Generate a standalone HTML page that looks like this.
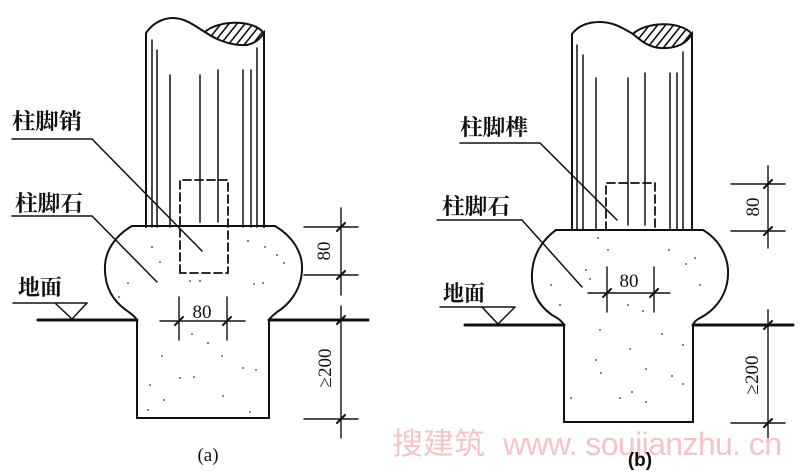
<!DOCTYPE html>
<html><head><meta charset="utf-8"><style>
html,body{margin:0;padding:0;background:#fff;}
svg{display:block;}
.cj{font-family:"Liberation Serif","Noto Serif CJK SC",serif;font-size:22px;font-weight:bold;fill:#111;}
.num{font-family:"Liberation Serif",serif;font-size:19px;fill:#111;}
</style></head><body>
<svg width="800" height="473" viewBox="0 0 800 473" xmlns="http://www.w3.org/2000/svg">
<defs>
<clipPath id="ha"><path d="M205,32 C215,22 250,17 264,33 C258,42 250,46 240,45 C225,44 212,37 205,32 Z"/></clipPath>
<clipPath id="hb"><path d="M633,34 C645,22 680,20 692,34 C686,44 675,49 660,48 C648,47 640,40 633,34 Z"/></clipPath>
</defs>
<rect width="800" height="473" fill="#fff"/>
<g fill="none" stroke="#111" stroke-linecap="round">
<!-- ===== (a) ===== -->
<path d="M132,226 L275,226 C292,236 303,252 302,270 C301,292 287,306 277,312 C272,316 270,318 269,320 L269,418 L137,418 L137,320 C135,316 130,313 126,310 C112,300 104,285 105,265 C106,248 118,234 132,226 Z" stroke-width="2"/>
<path d="M146,227 L146,33 C152,24 162,18 173,18 C186,18 196,27 205,32 C212,37 225,44 240,45 C250,46 258,42 264,33 L264,227" stroke-width="2"/>
<path d="M205,32 C215,22 250,17 264,33" stroke-width="2"/>
<g clip-path="url(#ha)" stroke-width="1.6">
<line x1="200" y1="60" x2="240" y2="10"/><line x1="208" y1="60" x2="248" y2="10"/><line x1="216" y1="60" x2="256" y2="10"/><line x1="224" y1="60" x2="264" y2="10"/><line x1="232" y1="60" x2="272" y2="10"/><line x1="240" y1="60" x2="280" y2="10"/><line x1="248" y1="60" x2="288" y2="10"/><line x1="192" y1="60" x2="232" y2="10"/>
</g>
<g stroke-width="1.5">
<line x1="152" y1="40" x2="152" y2="227"/><line x1="157" y1="50" x2="157" y2="227"/><line x1="170" y1="75" x2="170" y2="227"/>
<line x1="200" y1="75" x2="200" y2="222"/><line x1="218" y1="70" x2="218" y2="222"/><line x1="243" y1="70" x2="243" y2="227"/>
<line x1="251" y1="70" x2="251" y2="227"/><line x1="257" y1="48" x2="257" y2="227"/>
</g>
<path d="M180,273 L180,180 L228,180 L228,273 Z" stroke-width="1.8" stroke-dasharray="8,4"/>
<line x1="38" y1="320" x2="137" y2="320" stroke-width="3"/>
<line x1="269" y1="320" x2="368" y2="320" stroke-width="3"/>
<line x1="13" y1="303" x2="87" y2="303" stroke-width="1.5"/>
<path d="M55,303 L72,319 L87,303" stroke-width="1.5"/>
<path d="M12,139 L92,139 L202,251" stroke-width="1.5"/>
<path d="M12,216 L92,216 L157,282" stroke-width="1.5"/>
<line x1="341" y1="208" x2="341" y2="295" stroke-width="1.4"/>
<line x1="341" y1="306" x2="341" y2="438" stroke-width="1.4"/>
<line x1="304" y1="227" x2="358" y2="227" stroke-width="1.4"/>
<line x1="304" y1="275" x2="358" y2="275" stroke-width="1.4"/>
<line x1="304" y1="419" x2="358" y2="419" stroke-width="1.4"/>
<g stroke-width="2"><line x1="337" y1="231" x2="345" y2="223"/><line x1="337" y1="279" x2="345" y2="271"/><line x1="337" y1="324" x2="345" y2="316"/><line x1="337" y1="423" x2="345" y2="415"/></g>
<line x1="160" y1="321" x2="245" y2="321" stroke-width="1.4"/>
<line x1="179" y1="297" x2="179" y2="340" stroke-width="1.4"/>
<line x1="227" y1="297" x2="227" y2="340" stroke-width="1.4"/>
<g stroke-width="2"><line x1="175" y1="325" x2="183" y2="317"/><line x1="223" y1="325" x2="231" y2="317"/></g>

<!-- ===== (b) ===== -->
<path d="M556,230 L703,230 C720,240 729,258 728,275 C727,298 712,312 700,318 C696,320 694,322 693,325 L693,422 L564,422 L564,325 C562,321 558,318 552,315 C538,305 531,292 532,273 C533,255 542,240 556,230 Z" stroke-width="2"/>
<path d="M572,230 L572,34 C578,26 588,22 600,22 C614,22 624,29 633,34 C640,40 648,47 660,48 C675,49 686,44 692,34 L692,230" stroke-width="2"/>
<path d="M633,34 C645,22 680,20 692,34" stroke-width="2"/>
<g clip-path="url(#hb)" stroke-width="1.6">
<line x1="620" y1="62" x2="660" y2="12"/><line x1="628" y1="62" x2="668" y2="12"/><line x1="636" y1="62" x2="676" y2="12"/><line x1="644" y1="62" x2="684" y2="12"/><line x1="652" y1="62" x2="692" y2="12"/><line x1="660" y1="62" x2="700" y2="12"/><line x1="668" y1="62" x2="708" y2="12"/><line x1="676" y1="62" x2="716" y2="12"/>
</g>
<g stroke-width="1.5">
<line x1="577" y1="45" x2="577" y2="230"/><line x1="583" y1="55" x2="583" y2="230"/><line x1="596" y1="78" x2="596" y2="230"/>
<line x1="628" y1="78" x2="628" y2="225"/><line x1="645" y1="73" x2="645" y2="225"/><line x1="670" y1="73" x2="670" y2="230"/>
<line x1="677" y1="73" x2="677" y2="230"/><line x1="683" y1="52" x2="683" y2="230"/>
</g>
<path d="M606,230 L606,183 L655,183 L655,230" stroke-width="1.8" stroke-dasharray="8,4"/>
<line x1="465" y1="325" x2="564" y2="325" stroke-width="3"/>
<line x1="693" y1="325" x2="793" y2="325" stroke-width="3"/>
<line x1="440" y1="307" x2="515" y2="307" stroke-width="1.5"/>
<path d="M482,307 L498,324 L515,307" stroke-width="1.5"/>
<path d="M460,143 L540,143 L617,220" stroke-width="1.5"/>
<path d="M437,220 L522,220 L582,287" stroke-width="1.5"/>
<line x1="768" y1="166" x2="768" y2="248" stroke-width="1.4"/>
<line x1="768" y1="310" x2="768" y2="440" stroke-width="1.4"/>
<line x1="731" y1="184" x2="785" y2="184" stroke-width="1.4"/>
<line x1="731" y1="231" x2="785" y2="231" stroke-width="1.4"/>
<line x1="731" y1="423" x2="785" y2="423" stroke-width="1.4"/>
<g stroke-width="2"><line x1="764" y1="188" x2="772" y2="180"/><line x1="764" y1="235" x2="772" y2="227"/><line x1="764" y1="329" x2="772" y2="321"/><line x1="764" y1="427" x2="772" y2="419"/></g>
<line x1="588" y1="293" x2="670" y2="293" stroke-width="1.4"/>
<line x1="607" y1="267" x2="607" y2="312" stroke-width="1.4"/>
<line x1="654" y1="267" x2="654" y2="312" stroke-width="1.4"/>
<g stroke-width="2"><line x1="603" y1="297" x2="611" y2="289"/><line x1="650" y1="297" x2="658" y2="289"/></g>
</g>
<g fill="#333">
<circle cx="152" cy="247" r="0.9"/><circle cx="160" cy="262" r="0.9"/><circle cx="128" cy="283" r="0.9"/><circle cx="119" cy="297" r="0.9"/><circle cx="248" cy="241" r="0.9"/><circle cx="265" cy="247" r="0.9"/><circle cx="277" cy="255" r="0.9"/><circle cx="284" cy="263" r="0.9"/><circle cx="254" cy="284" r="0.9"/><circle cx="263" cy="283" r="0.9"/><circle cx="200" cy="281" r="0.9"/><circle cx="190" cy="281" r="0.9"/><circle cx="192" cy="334" r="0.9"/><circle cx="208" cy="343" r="0.9"/><circle cx="162" cy="356" r="0.9"/><circle cx="222" cy="356" r="0.9"/><circle cx="180" cy="378" r="0.9"/><circle cx="194" cy="377" r="0.9"/><circle cx="243" cy="368" r="0.9"/><circle cx="256" cy="370" r="0.9"/><circle cx="150" cy="385" r="0.9"/><circle cx="164" cy="400" r="0.9"/><circle cx="223" cy="396" r="0.9"/><circle cx="250" cy="412" r="0.9"/><circle cx="148" cy="410" r="0.9"/>
<circle cx="598" cy="238" r="0.9"/><circle cx="608" cy="250" r="0.9"/><circle cx="586" cy="270" r="0.9"/><circle cx="590" cy="279" r="0.9"/><circle cx="669" cy="250" r="0.9"/><circle cx="686" cy="264" r="0.9"/><circle cx="695" cy="258" r="0.9"/><circle cx="700" cy="285" r="0.9"/><circle cx="551" cy="285" r="0.9"/><circle cx="628" cy="305" r="0.9"/><circle cx="643" cy="311" r="0.9"/><circle cx="560" cy="305" r="0.9"/><circle cx="600" cy="330" r="0.9"/><circle cx="630" cy="349" r="0.9"/><circle cx="662" cy="334" r="0.9"/><circle cx="683" cy="345" r="0.9"/><circle cx="596" cy="360" r="0.9"/><circle cx="646" cy="369" r="0.9"/><circle cx="672" cy="376" r="0.9"/><circle cx="601" cy="373" r="0.9"/><circle cx="620" cy="398" r="0.9"/><circle cx="632" cy="392" r="0.9"/><circle cx="646" cy="402" r="0.9"/><circle cx="571" cy="398" r="0.9"/><circle cx="683" cy="384" r="0.9"/>
</g>
<text class="cj" x="12" y="129" textLength="70" lengthAdjust="spacingAndGlyphs">柱脚销</text>
<text class="cj" x="15" y="211" textLength="68" lengthAdjust="spacingAndGlyphs">柱脚石</text>
<text class="cj" x="18" y="295" textLength="44" lengthAdjust="spacingAndGlyphs">地面</text>
<text class="cj" x="460" y="135" textLength="68" lengthAdjust="spacingAndGlyphs">柱脚榫</text>
<text class="cj" x="442" y="214" textLength="68" lengthAdjust="spacingAndGlyphs">柱脚石</text>
<text class="cj" x="443" y="301" textLength="42" lengthAdjust="spacingAndGlyphs">地面</text>
<text class="num" x="202" y="318" text-anchor="middle">80</text>
<text class="num" x="629" y="287" text-anchor="middle">80</text>
<text class="num" transform="translate(330,251) rotate(-90)" text-anchor="middle">80</text>
<text class="num" transform="translate(331,368) rotate(-90)" text-anchor="middle">≥200</text>
<text class="num" transform="translate(759,207) rotate(-90)" text-anchor="middle">80</text>
<text class="num" transform="translate(758,375) rotate(-90)" text-anchor="middle">≥200</text>
<text class="num" x="208" y="461" text-anchor="middle" font-size="20">(a)</text>
<text x="392" y="454" font-family="'Noto Sans CJK SC',sans-serif" font-size="30" fill="#f6c3c7" textLength="93" lengthAdjust="spacingAndGlyphs">搜建筑</text>
<text x="503" y="455" font-family="'Liberation Sans',sans-serif" font-size="32" fill="#f6c3c7" textLength="279" lengthAdjust="spacing">www. soujianzhu. cn</text>
<text x="640" y="466" text-anchor="middle" font-family="'Liberation Sans',sans-serif" font-size="19" font-weight="bold" fill="#111">(b)</text>
</svg>
</body></html>
